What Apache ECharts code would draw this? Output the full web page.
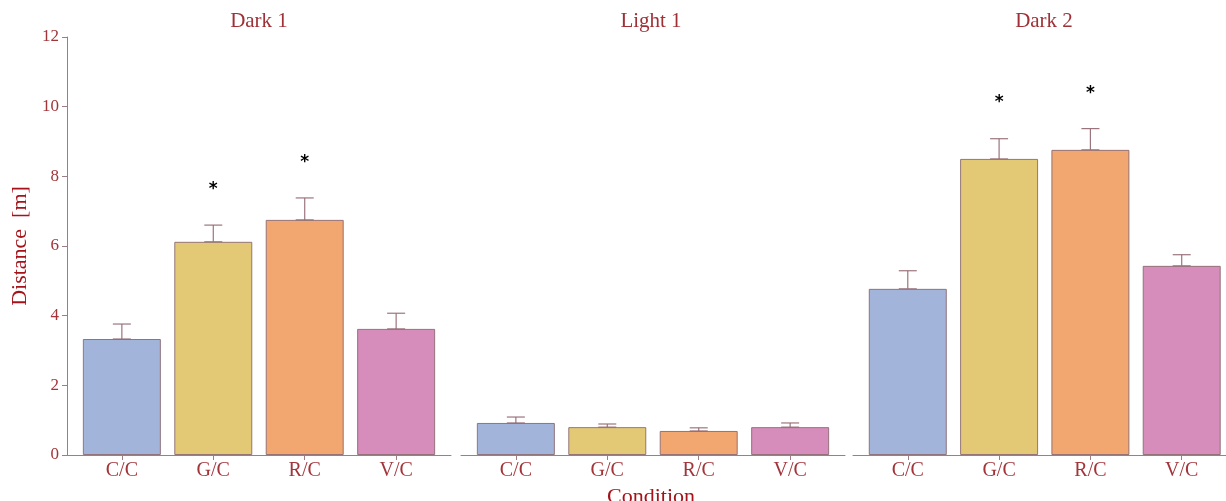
<!DOCTYPE html>
<html><head><meta charset="utf-8">
<script src="https://cdn.jsdelivr.net/npm/echarts@6/dist/echarts.min.js"></script>
<style>html,body{margin:0;padding:0;background:#fff}#c{width:1226px;height:501px}</style>
</head><body><div id="c"></div>
<script>
const categories = ["C/C", "G/C", "R/C", "V/C"];
const panels = ["Dark 1", "Light 1", "Dark 2"];
const yTicks = [0, 2, 4, 6, 8, 10, 12];
const colors = ["#a3b4db", "#e3c976", "#f2a670", "#d68dbb"];
const dark1Mean = [3.33, 6.12, 6.75, 3.62];
const dark1Err = [0.43, 0.48, 0.63, 0.45];
const light1Mean = [0.92, 0.80, 0.69, 0.80];
const light1Err = [0.17, 0.09, 0.09, 0.12];
const dark2Mean = [4.77, 8.50, 8.76, 5.43];
const dark2Err = [0.52, 0.58, 0.61, 0.32];
const dark1Star = [null, 7.62, 8.40, null];
const light1Star = [null, null, null, null];
const dark2Star = [null, 10.12, 10.38, null];

const means = [dark1Mean, light1Mean, dark2Mean];
const errs = [dark1Err, light1Err, dark2Err];
const stars = [dark1Star, light1Star, dark2Star];

const FONT = "Liberation Serif";
const tickRed = "#a3353a";
const deepRed = "#a5121a";
const axisCol = "#9c7f84";
const lefts = [67, 461, 853];
const widths = [384, 384, 373];
const xMax = [3.6, 3.6, 3.485];
const titleCenters = [259, 651, 1044];

const grids = [], xAxes = [], yAxes = [], series = [], titles = [];
for (let p = 0; p < 3; p++) {
  grids.push({left: lefts[p], width: widths[p], top: 37, height: 418});
  xAxes.push({
    type: "value", gridIndex: p, min: -0.6, max: xMax[p],
    axisLine: {show: true, onZero: false, lineStyle: {color: axisCol, width: 1}},
    axisTick: {show: true, customValues: [0, 1, 2, 3], length: 5, lineStyle: {color: axisCol}},
    axisLabel: {show: true, customValues: [0, 1, 2, 3], formatter: v => categories[Math.round(v)],
      color: tickRed, fontFamily: FONT, fontSize: 20, margin: 6},
    splitLine: {show: false}
  });
  yAxes.push({
    type: "value", gridIndex: p, min: 0, max: 12, interval: 2,
    axisLine: {show: p === 0, onZero: false, lineStyle: {color: axisCol, width: 1}},
    axisTick: {show: p === 0, length: 5, lineStyle: {color: axisCol}},
    axisLabel: {show: p === 0, color: tickRed, fontFamily: FONT, fontSize: 17, margin: 8},
    splitLine: {show: false}
  });
  series.push({
    type: "bar", xAxisIndex: p, yAxisIndex: p, barWidth: 78, z: 3,
    data: means[p].map((v, i) => ({value: [i, v], itemStyle: {color: colors[i]}})),
    itemStyle: {borderColor: "rgba(140,105,112,0.9)", borderWidth: 1},
    animation: false
  });
  series.push({
    type: "custom", xAxisIndex: p, yAxisIndex: p, z: 2,
    data: means[p].map((v, i) => [i, v, v + errs[p][i]]),
    renderItem: function (params, api) {
      const x = api.value(0);
      const lo = api.coord([x, api.value(1)]);
      const hi = api.coord([x, api.value(2)]);
      const st = {stroke: "rgba(150,110,118,0.95)", lineWidth: 1.2};
      return {type: "group", children: [
        {type: "line", shape: {x1: lo[0], y1: lo[1], x2: hi[0], y2: hi[1]}, style: st},
        {type: "line", shape: {x1: hi[0] - 9, y1: hi[1], x2: hi[0] + 9, y2: hi[1]}, style: st},
        {type: "line", shape: {x1: lo[0] - 9, y1: lo[1], x2: lo[0] + 9, y2: lo[1]}, style: st}
      ]};
    },
    animation: false
  });
  series.push({
    type: "custom", xAxisIndex: p, yAxisIndex: p, z: 5,
    data: stars[p].map((v, i) => [i, v]).filter(d => d[1] !== null),
    renderItem: function (params, api) {
      const c = api.coord([api.value(0), api.value(1)]);
      return {type: "text", x: c[0], y: c[1], style: {text: "*", fill: "#000", font: "bold 17px 'DejaVu Sans'", align: "center", verticalAlign: "middle"}};
    },
    animation: false
  });
  titles.push({text: panels[p], left: titleCenters[p], top: 11, textAlign: "center", padding: 0,
    textStyle: {color: "#9e3036", fontFamily: FONT, fontSize: 21, fontWeight: "normal"}});
}
titles.push({text: "Condition", left: 651, top: 486, textAlign: "center", padding: 0,
  textStyle: {color: deepRed, fontFamily: FONT, fontSize: 22, fontWeight: "normal"}});

const chart = echarts.init(document.getElementById("c"));
chart.setOption({
  animation: false,
  title: titles,
  grid: grids, xAxis: xAxes, yAxis: yAxes, series: series,
  graphic: [{type: "text", x: 20, y: 246, rotation: Math.PI / 2,
    style: {text: "Distance  [m]", fill: deepRed, font: "22px 'Liberation Serif'", align: "center", verticalAlign: "middle"}}]
});
</script></body></html>
